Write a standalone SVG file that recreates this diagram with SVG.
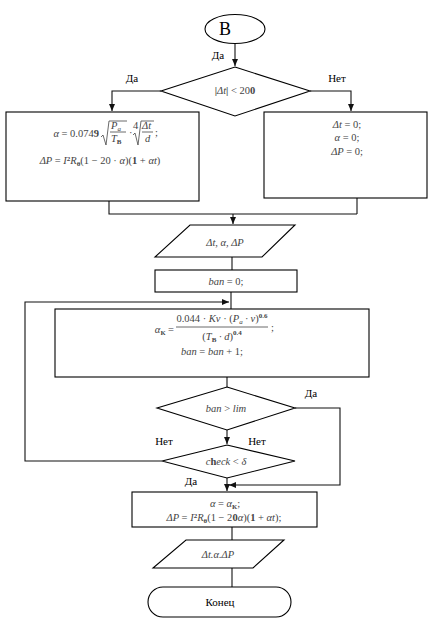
<svg xmlns="http://www.w3.org/2000/svg" width="436" height="628" viewBox="0 0 436 628">
<defs>
<marker id="arr" markerWidth="8" markerHeight="6" refX="7" refY="3" orient="auto" markerUnits="userSpaceOnUse">
<path d="M0,0 L7,3 L0,6 z" fill="#111"/>
</marker>
<style>
.s{fill:#fff;stroke:#000;stroke-width:1.1}
.c{fill:none;stroke:#111;stroke-width:1.1}
.l{font-family:"Liberation Serif",serif;font-size:11px;fill:#000}
.m{font-family:"Liberation Serif",serif;font-size:10.5px;fill:#444;font-style:italic}
.n{font-style:normal}
.b{font-weight:bold;font-style:normal}
.ml{fill:none;stroke:#444;stroke-width:0.8}
</style>
</defs>
<rect width="436" height="628" fill="#fff"/>

<g id="connectors">
<line class="c" x1="235" y1="43" x2="235" y2="66" marker-end="url(#arr)"/>
<polyline class="c" points="161,91 112,91 112,111" marker-end="url(#arr)"/>
<polyline class="c" points="310,91 351,91 351,111" marker-end="url(#arr)"/>
<polyline class="c" points="109,201 109,214 357,214"/>
<line class="c" x1="357" y1="198" x2="357" y2="214"/>
<line class="c" x1="233" y1="214" x2="233" y2="224" marker-end="url(#arr)"/>
<line class="c" x1="232" y1="257" x2="232" y2="270"/>
<line class="c" x1="231" y1="292" x2="231" y2="309"/>
<polyline class="c" points="162,461 25,461 25,302 229,302" marker-end="url(#arr)"/>
<line class="c" x1="227" y1="377" x2="227" y2="387"/>
<line class="c" x1="227" y1="430" x2="227" y2="444" marker-end="url(#arr)"/>
<polyline class="c" points="295,408 340,408 340,485 229,485" marker-end="url(#arr)"/>
<line class="c" x1="227" y1="478" x2="227" y2="491" marker-end="url(#arr)"/>
<line class="c" x1="232" y1="527" x2="232" y2="540"/>
<line class="c" x1="232" y1="568" x2="232" y2="587"/>
</g>

<g id="labels">
<text class="l" x="218" y="59" text-anchor="middle">Да</text>
<text class="l" x="132" y="82" text-anchor="middle">Да</text>
<text class="l" x="337" y="82" text-anchor="middle">Нет</text>
<text class="l" x="311" y="397" text-anchor="middle">Да</text>
<text class="l" x="257" y="445" text-anchor="middle">Нет</text>
<text class="l" x="164" y="445" text-anchor="middle">Нет</text>
<text class="l" x="191" y="485" text-anchor="middle">Да</text>
</g>

<g id="start">
<ellipse class="s" cx="235" cy="29" rx="30" ry="14.5"/>
<text x="225" y="35" text-anchor="middle" font-family="Liberation Serif, serif" font-size="18">В</text>
</g>

<g id="cond1">
<polygon class="s" points="235,67 310,91 235,116 161,91"/>
<text class="m" x="235" y="94" text-anchor="middle"><tspan class="b">|</tspan>Δt<tspan class="b">|</tspan><tspan class="n"> &lt; 20</tspan><tspan class="b">0</tspan></text>
</g>

<g id="calc-yes">
<rect class="s" x="6" y="112" width="193" height="89"/>
<text class="m" x="99" y="137" text-anchor="end">α <tspan class="n">= 0.074</tspan><tspan class="b">9</tspan></text>
<polyline class="ml" points="101,137 103,135 106,145 109,121 127,121"/>
<text class="m" x="111" y="129">P<tspan dy="2" font-size="7">a</tspan></text>
<line class="ml" x1="110" y1="132" x2="126" y2="132"/>
<text class="m" x="111" y="142">T<tspan dy="2" font-size="7" class="b">В</tspan></text>
<text class="m n" x="129" y="136">·</text>
<text class="m n" x="133" y="129" font-size="6">4</text>
<polyline class="ml" points="133,135 135,133 138,145 141,121 154,121"/>
<text class="m" x="142" y="129">Δt</text>
<line class="ml" x1="142" y1="132" x2="153" y2="132"/>
<text class="m" x="145" y="142">d</text>
<text class="m n" x="155" y="136">;</text>
<text class="m" x="100" y="164" text-anchor="middle">ΔP <tspan class="n">= </tspan>I<tspan class="b" dy="-3" font-size="7">2</tspan><tspan dy="3">R</tspan><tspan class="b" dy="2" font-size="7">θ</tspan><tspan class="n" dy="-2">(1 − 20 · </tspan>α<tspan class="n">)(</tspan><tspan class="b">1</tspan><tspan class="n"> + </tspan>αt<tspan class="n">)</tspan></text>
</g>

<g id="calc-no">
<rect class="s" x="264" y="112" width="163" height="86"/>
<text class="m" x="347" y="128" text-anchor="middle">Δt <tspan class="n">= 0;</tspan></text>
<text class="m" x="347" y="141" text-anchor="middle">α <tspan class="n">= 0;</tspan></text>
<text class="m" x="347" y="155" text-anchor="middle">ΔP <tspan class="n">= 0;</tspan></text>
</g>

<g id="out1">
<polygon class="s" points="190,225 295,225 262,257 155,257"/>
<text class="m" x="225" y="246" text-anchor="middle">Δt, α, ΔP</text>
</g>

<g id="init">
<rect class="s" x="155" y="270" width="142" height="22"/>
<text class="m" x="226" y="285" text-anchor="middle">ban <tspan class="n">= 0;</tspan></text>
</g>

<g id="calc-k">
<rect class="s" x="55" y="309" width="314" height="68"/>
<text class="m" x="174" y="333" text-anchor="end">α<tspan class="b" dy="2" font-size="7">К</tspan><tspan class="n" dy="-2"> =</tspan></text>
<text class="m" x="222" y="322" text-anchor="middle"><tspan class="n">0.044 · </tspan>Kv<tspan class="n"> · (</tspan>P<tspan dy="2" font-size="7">a</tspan><tspan dy="-2"> · v</tspan><tspan class="n">)</tspan><tspan class="b" dy="-4" font-size="7">0.6</tspan></text>
<line class="ml" x1="176" y1="327" x2="268" y2="327"/>
<text class="m" x="222" y="340" text-anchor="middle"><tspan class="n">(</tspan>T<tspan class="b" dy="2" font-size="7">В</tspan><tspan dy="-2"> · d</tspan><tspan class="n">)</tspan><tspan class="b" dy="-5" font-size="7">0.4</tspan></text>
<text class="m n" x="271" y="331">;</text>
<text class="m" x="212" y="355" text-anchor="middle">ban <tspan class="n">= </tspan>ban<tspan class="n"> + 1;</tspan></text>
</g>

<g id="cond2">
<polygon class="s" points="227,387 295,408 227,430 157,408"/>
<text class="m" x="226" y="412" text-anchor="middle">ban <tspan class="n">&gt; </tspan>lim</text>
</g>

<g id="cond3">
<polygon class="s" points="227,445 295,461 227,478 162,461"/>
<text class="m" x="226" y="465" text-anchor="middle">c<tspan class="b">h</tspan>eck<tspan class="n"> &lt; </tspan>δ</text>
</g>

<g id="final">
<rect class="s" x="132" y="492" width="185" height="35"/>
<text class="m" x="225" y="507" text-anchor="middle">α <tspan class="n">= </tspan>α<tspan class="b" dy="2" font-size="7">К</tspan><tspan class="n" dy="-2">;</tspan></text>
<text class="m" x="224" y="521" text-anchor="middle">ΔP <tspan class="n">= </tspan>I<tspan class="b" dy="-3" font-size="7">2</tspan><tspan dy="3">R</tspan><tspan class="b" dy="2" font-size="7">θ</tspan><tspan class="n" dy="-2">(1 − 2</tspan><tspan class="b">0</tspan>α<tspan class="n">)(</tspan><tspan class="b">1</tspan><tspan class="n"> + </tspan>αt<tspan class="n">);</tspan></text>
</g>

<g id="out2">
<polygon class="s" points="186,540 284,540 253,568 153,568"/>
<text class="m" x="218" y="558" text-anchor="middle">Δt.α.ΔP</text>
</g>

<g id="end">
<rect class="s" x="148" y="587" width="143" height="30" rx="15" ry="15"/>
<text class="l" x="220" y="606" text-anchor="middle">Конец</text>
</g>
</svg>
